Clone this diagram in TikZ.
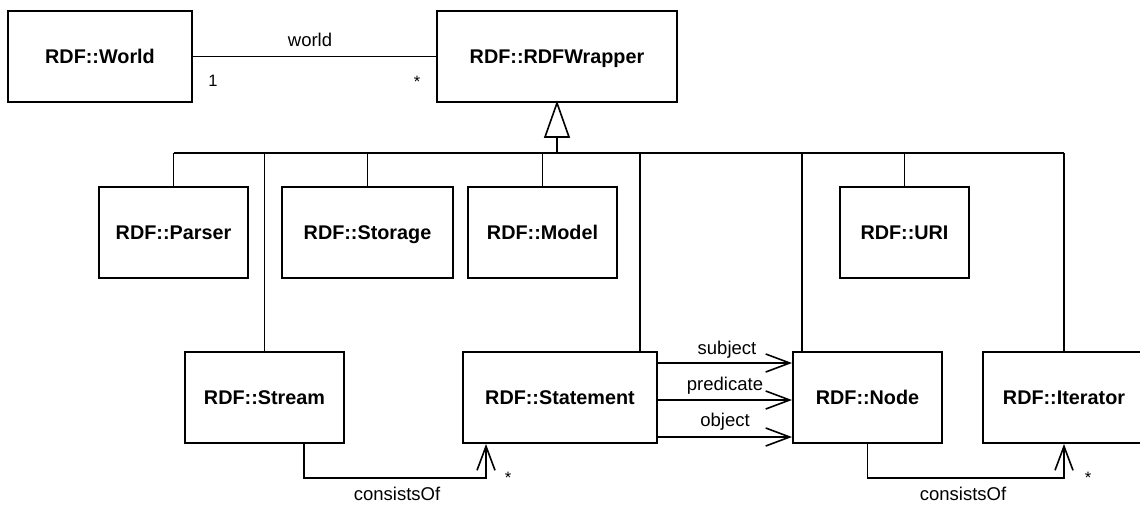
\documentclass[tikz,border=0pt]{standalone}
\usepackage{fontspec}
\setmainfont{Liberation Sans}
\usetikzlibrary{arrows.meta}

\begin{document}
\begin{tikzpicture}[x=1pt, y=-1pt,
  cls/.style={draw, line width=2pt, rectangle, inner sep=0pt, minimum height=91pt,
    text height=14.2pt, text depth=0pt,
    font=\fontsize{19.8}{23}\selectfont\bfseries},
  link/.style={line width=1.6pt},
  assoc/.style={line width=1.6pt, -{Straight Barb[length=24pt, width=18pt]}, line join=miter},
  lbl/.style={anchor=base, inner sep=0pt, font=\fontsize{18.5}{22}\selectfont},
  mult/.style={anchor=base, inner sep=0pt, font=\fontsize{16.5}{20}\selectfont}]

\clip (0,0) rectangle (1140,504);
\fill[white] (0,0) rectangle (1140,504);

% classes
\node[cls, minimum width=184pt] (world)   at (100,56.5)   {RDF::World};
\node[cls, minimum width=240pt] (wrapper) at (557,56.5)   {RDF::RDFWrapper};
\node[cls, minimum width=149pt] (parser)  at (173.5,232.5) {RDF::Parser};
\node[cls, minimum width=171pt] (storage) at (367.5,232.5) {RDF::Storage};
\node[cls, minimum width=149pt] (model)   at (542.5,232.5) {RDF::Model};
\node[cls, minimum width=129pt] (uri)     at (904.5,232.5) {RDF::URI};
\node[cls, minimum width=159pt] (stream)  at (264.5,397.5) {RDF::Stream};
\node[cls, minimum width=194pt] (statement) at (560,397.5) {RDF::Statement};
\node[cls, minimum width=149pt] (rnode)   at (867.5,397.5) {RDF::Node};
\node[cls, minimum width=162pt] (iterator) at (1064,397.5) {RDF::Iterator};

% association World -- RDFWrapper
\draw[link] (world.east) -- (wrapper.west);
\node[lbl]  at (310,46) {world};
\node[mult] at (213,86) {1};
\node[mult] at (417,87) {*};

% generalisation: hollow triangle, stem and bus
\coordinate (bus) at (0,153);
\coordinate (tribase) at (557,137);
\draw[link, line join=miter] (wrapper.south) -- ([xshift=-12pt]tribase) -- ([xshift=12pt]tribase) -- cycle;
\draw[link] (tribase) -- (tribase |- bus);
\draw[link] (parser.north |- bus) -- (iterator.north |- bus);

\coordinate (dropSt) at (640,153);
\coordinate (dropNd) at (802,153);
\draw[link] (parser.north)  -- (parser.north |- bus);
\draw[link] (storage.north) -- (storage.north |- bus);
\draw[link] (model.north)   -- (model.north |- bus);
\draw[link] (uri.north)     -- (uri.north |- bus);
\draw[link] (stream.north)  -- (stream.north |- bus);
\draw[link] (dropSt) -- (dropSt |- statement.north);
\draw[link] (dropNd) -- (dropNd |- rnode.north);
\draw[link] (iterator.north) -- (iterator.north |- bus);

% Statement -> Node
\draw[assoc] ([yshift=34.5pt]statement.east) -- ([yshift=34.5pt]rnode.west);
\draw[assoc] ([yshift=-2.5pt]statement.east) -- ([yshift=-2.5pt]rnode.west);
\draw[assoc] ([yshift=-39.5pt]statement.east) -- ([yshift=-39.5pt]rnode.west);
\node[lbl] at (727,354) {subject};
\node[lbl] at (725,390) {predicate};
\node[lbl] at (725,426) {object};

% consistsOf associations
\draw[assoc] ([xshift=39.5pt]stream.south) -- ++(0,34) -| ([xshift=-74pt]statement.south);
\node[lbl]  at (397,500) {consistsOf};
\node[mult] at (508,483) {*};

\draw[assoc] (rnode.south) -- ++(0,34) -| (iterator.south);
\node[lbl]  at (963,500) {consistsOf};
\node[mult] at (1088,483) {*};

\end{tikzpicture}
\end{document}
